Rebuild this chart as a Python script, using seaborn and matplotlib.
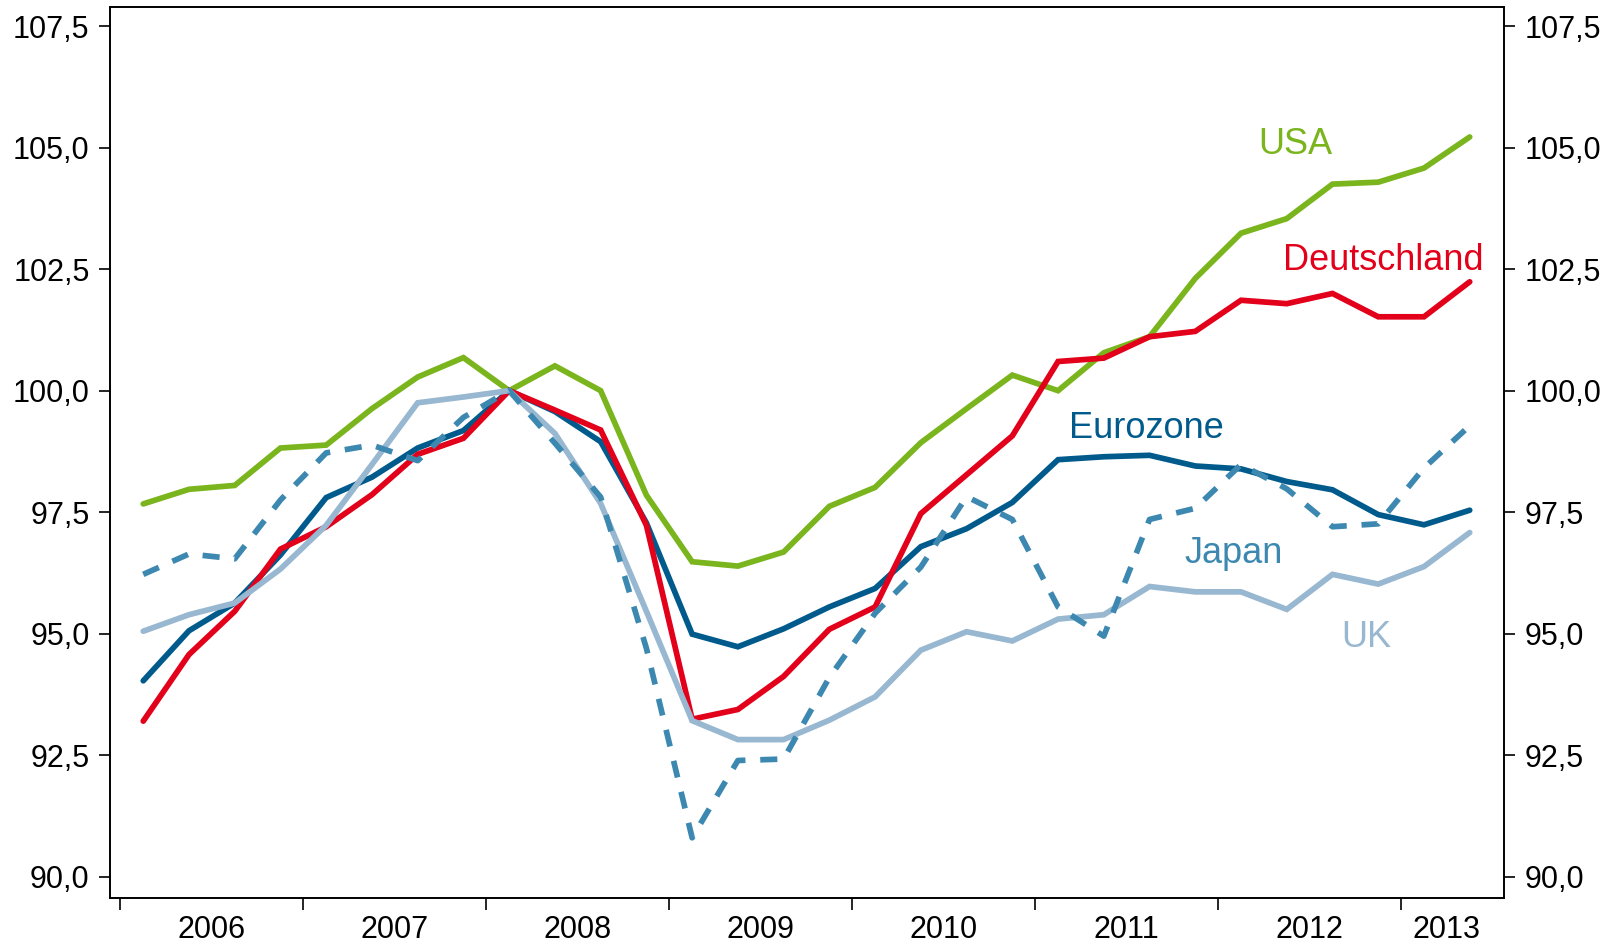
import numpy as np
import pandas as pd
import matplotlib
matplotlib.use("Agg")
import matplotlib.pyplot as plt
import seaborn as sns

# ---- data (quarterly index, 2008Q1 = 100) ----
quarters = [f"{y}Q{q}" for y in range(2006, 2014) for q in range(1, 5)][:30]
years = ["2006", "2007", "2008", "2009", "2010", "2011", "2012", "2013"]

usa = [97.67, 97.97, 98.05, 98.82, 98.88, 99.63, 100.28, 100.68, 100.00, 100.51,
       100.00, 97.85, 96.48, 96.39, 96.68, 97.62, 98.01, 98.93, 99.63, 100.32,
       100.00, 100.78, 101.11, 102.31, 103.24, 103.54, 104.25, 104.29, 104.58, 105.22]
deutschland = [93.20, 94.57, 95.46, 96.74, 97.20, 97.86, 98.69, 99.02, 100.00, 99.60,
               99.19, 97.23, 93.24, 93.44, 94.12, 95.09, 95.55, 97.47, 98.27, 99.07,
               100.60, 100.67, 101.11, 101.22, 101.86, 101.79, 102.00, 101.52, 101.52, 102.24]
eurozone = [94.03, 95.06, 95.63, 96.62, 97.80, 98.22, 98.82, 99.18, 100.00, 99.57,
            98.95, 97.28, 94.99, 94.73, 95.10, 95.55, 95.93, 96.79, 97.16, 97.70,
            98.58, 98.64, 98.67, 98.45, 98.39, 98.13, 97.96, 97.45, 97.24, 97.54]
japan = [96.22, 96.64, 96.54, 97.75, 98.72, 98.88, 98.56, 99.45, 100.00, 98.92,
         97.81, 94.70, 90.80, 92.39, 92.42, 94.10, 95.42, 96.37, 97.82, 97.35,
         95.55, 94.95, 97.35, 97.58, 98.48, 97.98, 97.20, 97.26, 98.41, 99.28]
uk = [95.05, 95.39, 95.63, 96.33, 97.23, 98.48, 99.75, 99.87, 100.00, 99.12,
      97.68, 95.46, 93.21, 92.82, 92.82, 93.22, 93.70, 94.66, 95.04, 94.85,
      95.30, 95.39, 95.97, 95.86, 95.86, 95.50, 96.22, 96.02, 96.38, 97.08]

yticks = [90.0, 92.5, 95.0, 97.5, 100.0, 102.5, 105.0, 107.5]

colors = {
    "USA": "#7ab51d",
    "Deutschland": "#e2001a",
    "Eurozone": "#005b8c",
    "UK": "#98b7d0",
    "Japan": "#3c88b1",
}

sns.set_theme(style="white")
plt.rcParams["font.family"] = ["Liberation Sans", "DejaVu Sans"]

fig = plt.figure(figsize=(16.23, 9.47), dpi=100)
ax = fig.add_axes([0.0678, 0.0517, 0.9267 - 0.0678, 0.9929 - 0.0517])

xpos = np.arange(len(quarters))
series = [("USA", usa), ("Eurozone", eurozone), ("Deutschland", deutschland),
          ("UK", uk), ("Japan", japan)]
for name, vals in series:
    df = pd.DataFrame({"x": xpos, "v": vals})
    sns.lineplot(data=df, x="x", y="v", ax=ax, color=colors[name],
                 linewidth=4.1, legend=False)
    ln = ax.lines[-1]
    ln.set_solid_joinstyle("miter")
    if name == "Japan":
        ln.set_dashes((3.0, 2.6))
        ln.set_dash_capstyle("butt")

ax.set_xlim(-0.726, 29.75)
ax.set_ylim(89.56, 107.9)
ax.set_xlabel("")
ax.set_ylabel("")

# x axis: year boundaries as major ticks, year labels centered (minor)
ax.set_xticks([-0.5 + 4 * k for k in range(8)])
ax.set_xticklabels([])
centers = [1.5 + 4 * k for k in range(7)] + [28.5]
ax.set_xticks(centers, minor=True)
ax.set_xticklabels(years, minor=True)
ax.tick_params(axis="x", which="major", direction="out", length=8.4, width=1.2,
               color="black", bottom=True)
ax.tick_params(axis="x", which="minor", length=0, pad=12, labelsize=22,
               labelcolor="black", bottom=True)

# y axis both sides
ax.set_yticks(yticks)
ax.set_yticklabels([f"{v:.1f}".replace(".", ",") for v in yticks])
ax.tick_params(axis="y", which="major", direction="out", length=7.7, width=1.2,
               color="black", left=True, right=True, labelleft=True,
               labelright=True, labelsize=22, labelcolor="black", pad=7)

for s in ax.spines.values():
    s.set_visible(True)
    s.set_color("black")
    s.set_linewidth(1.4)

ax.grid(False)

# series labels
labels = [("USA", 25.18, 104.86), ("Deutschland", 27.12, 102.49),
          ("Eurozone", 21.92, 99.03), ("Japan", 23.83, 96.45), ("UK", 26.75, 94.72)]
for name, lx, ly in labels:
    ax.text(lx, ly, name, color=colors[name], fontsize=26, ha="center",
            va="baseline")

fig.savefig("out.png", dpi=100)
